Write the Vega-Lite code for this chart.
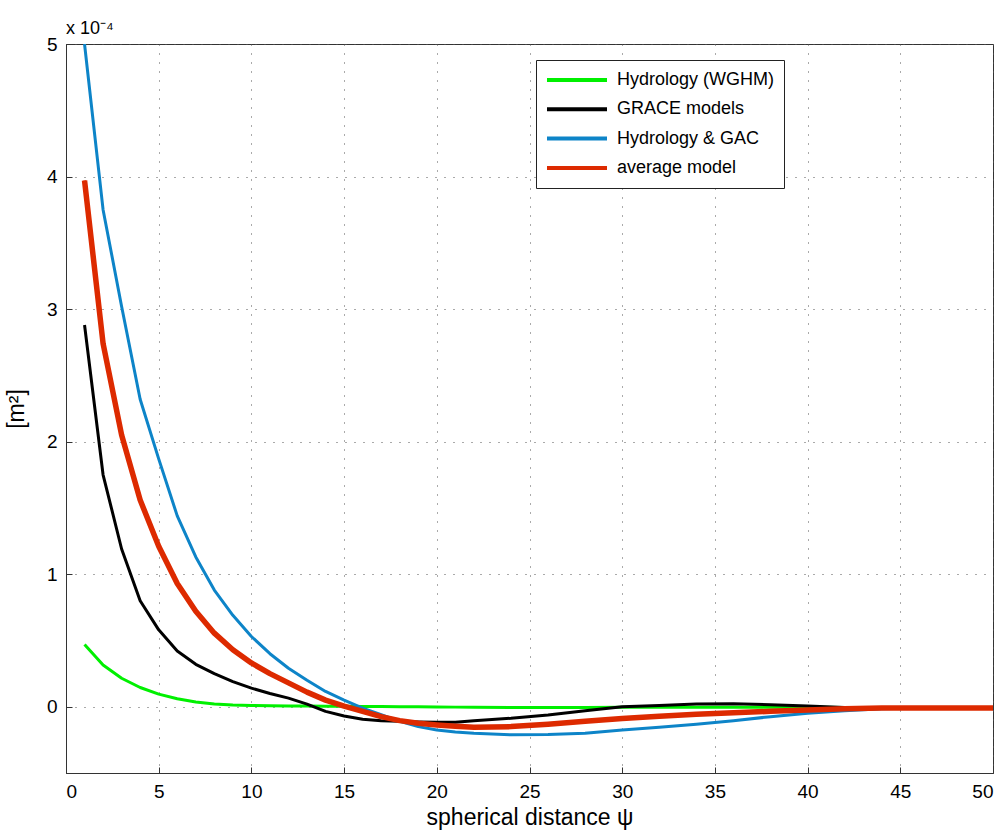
{
  "$schema": "https://vega.github.io/schema/vega-lite/v6.json",
  "width": 927,
  "height": 729,
  "autosize": {"type": "none"},
  "padding": {"left": 66, "top": 44, "right": 13, "bottom": 59},
  "background": "white",
  "title": {
    "text": "x 10⁻⁴",
    "anchor": "start",
    "frame": "group",
    "baseline": "bottom",
    "offset": 8,
    "dy": 29,
    "font": "Liberation Sans",
    "fontSize": 18,
    "fontWeight": "normal",
    "color": "#000"
  },
  "datasets": {
    "curves": [
      {"psi": 1, "series": "Hydrology (WGHM)", "cov": 0.47},
      {"psi": 2, "series": "Hydrology (WGHM)", "cov": 0.315},
      {"psi": 3, "series": "Hydrology (WGHM)", "cov": 0.215},
      {"psi": 4, "series": "Hydrology (WGHM)", "cov": 0.145},
      {"psi": 5, "series": "Hydrology (WGHM)", "cov": 0.095},
      {"psi": 6, "series": "Hydrology (WGHM)", "cov": 0.06},
      {"psi": 7, "series": "Hydrology (WGHM)", "cov": 0.035},
      {"psi": 8, "series": "Hydrology (WGHM)", "cov": 0.02},
      {"psi": 9, "series": "Hydrology (WGHM)", "cov": 0.013},
      {"psi": 10, "series": "Hydrology (WGHM)", "cov": 0.01},
      {"psi": 11, "series": "Hydrology (WGHM)", "cov": 0.008},
      {"psi": 12, "series": "Hydrology (WGHM)", "cov": 0.006},
      {"psi": 13, "series": "Hydrology (WGHM)", "cov": 0.005},
      {"psi": 14, "series": "Hydrology (WGHM)", "cov": 0.004},
      {"psi": 15, "series": "Hydrology (WGHM)", "cov": 0.003},
      {"psi": 16, "series": "Hydrology (WGHM)", "cov": 0.002},
      {"psi": 17, "series": "Hydrology (WGHM)", "cov": 0.001},
      {"psi": 18, "series": "Hydrology (WGHM)", "cov": 0.0},
      {"psi": 19, "series": "Hydrology (WGHM)", "cov": 0.0},
      {"psi": 20, "series": "Hydrology (WGHM)", "cov": -0.002},
      {"psi": 21, "series": "Hydrology (WGHM)", "cov": -0.003},
      {"psi": 22, "series": "Hydrology (WGHM)", "cov": -0.004},
      {"psi": 24, "series": "Hydrology (WGHM)", "cov": -0.005},
      {"psi": 26, "series": "Hydrology (WGHM)", "cov": -0.005},
      {"psi": 28, "series": "Hydrology (WGHM)", "cov": -0.005},
      {"psi": 30, "series": "Hydrology (WGHM)", "cov": -0.004},
      {"psi": 32, "series": "Hydrology (WGHM)", "cov": -0.004},
      {"psi": 34, "series": "Hydrology (WGHM)", "cov": -0.004},
      {"psi": 36, "series": "Hydrology (WGHM)", "cov": -0.003},
      {"psi": 38, "series": "Hydrology (WGHM)", "cov": -0.003},
      {"psi": 40, "series": "Hydrology (WGHM)", "cov": -0.004},
      {"psi": 42, "series": "Hydrology (WGHM)", "cov": -0.006},
      {"psi": 44, "series": "Hydrology (WGHM)", "cov": -0.008},
      {"psi": 46, "series": "Hydrology (WGHM)", "cov": -0.008},
      {"psi": 48, "series": "Hydrology (WGHM)", "cov": -0.008},
      {"psi": 50, "series": "Hydrology (WGHM)", "cov": -0.008},

      {"psi": 1, "series": "GRACE models", "cov": 2.88},
      {"psi": 2, "series": "GRACE models", "cov": 1.75},
      {"psi": 3, "series": "GRACE models", "cov": 1.19},
      {"psi": 4, "series": "GRACE models", "cov": 0.8},
      {"psi": 5, "series": "GRACE models", "cov": 0.58},
      {"psi": 6, "series": "GRACE models", "cov": 0.42},
      {"psi": 7, "series": "GRACE models", "cov": 0.32},
      {"psi": 8, "series": "GRACE models", "cov": 0.25},
      {"psi": 9, "series": "GRACE models", "cov": 0.19},
      {"psi": 10, "series": "GRACE models", "cov": 0.14},
      {"psi": 11, "series": "GRACE models", "cov": 0.1},
      {"psi": 12, "series": "GRACE models", "cov": 0.065},
      {"psi": 13, "series": "GRACE models", "cov": 0.02},
      {"psi": 14, "series": "GRACE models", "cov": -0.035},
      {"psi": 15, "series": "GRACE models", "cov": -0.07},
      {"psi": 16, "series": "GRACE models", "cov": -0.095},
      {"psi": 17, "series": "GRACE models", "cov": -0.105},
      {"psi": 18, "series": "GRACE models", "cov": -0.11},
      {"psi": 19, "series": "GRACE models", "cov": -0.115},
      {"psi": 20, "series": "GRACE models", "cov": -0.117},
      {"psi": 21, "series": "GRACE models", "cov": -0.118},
      {"psi": 22, "series": "GRACE models", "cov": -0.105},
      {"psi": 24, "series": "GRACE models", "cov": -0.087},
      {"psi": 26, "series": "GRACE models", "cov": -0.062},
      {"psi": 28, "series": "GRACE models", "cov": -0.03},
      {"psi": 30, "series": "GRACE models", "cov": 0.0},
      {"psi": 32, "series": "GRACE models", "cov": 0.01},
      {"psi": 34, "series": "GRACE models", "cov": 0.02},
      {"psi": 36, "series": "GRACE models", "cov": 0.022},
      {"psi": 38, "series": "GRACE models", "cov": 0.015},
      {"psi": 40, "series": "GRACE models", "cov": 0.005},
      {"psi": 42, "series": "GRACE models", "cov": -0.005},
      {"psi": 44, "series": "GRACE models", "cov": -0.01},
      {"psi": 46, "series": "GRACE models", "cov": -0.01},
      {"psi": 48, "series": "GRACE models", "cov": -0.01},
      {"psi": 50, "series": "GRACE models", "cov": -0.01},

      {"psi": 1, "series": "Hydrology & GAC", "cov": 5.0},
      {"psi": 2, "series": "Hydrology & GAC", "cov": 3.75},
      {"psi": 3, "series": "Hydrology & GAC", "cov": 3.02},
      {"psi": 4, "series": "Hydrology & GAC", "cov": 2.32},
      {"psi": 5, "series": "Hydrology & GAC", "cov": 1.87},
      {"psi": 6, "series": "Hydrology & GAC", "cov": 1.44},
      {"psi": 7, "series": "Hydrology & GAC", "cov": 1.13},
      {"psi": 8, "series": "Hydrology & GAC", "cov": 0.88},
      {"psi": 9, "series": "Hydrology & GAC", "cov": 0.69},
      {"psi": 10, "series": "Hydrology & GAC", "cov": 0.53},
      {"psi": 11, "series": "Hydrology & GAC", "cov": 0.4},
      {"psi": 12, "series": "Hydrology & GAC", "cov": 0.29},
      {"psi": 13, "series": "Hydrology & GAC", "cov": 0.2},
      {"psi": 14, "series": "Hydrology & GAC", "cov": 0.115},
      {"psi": 15, "series": "Hydrology & GAC", "cov": 0.05},
      {"psi": 16, "series": "Hydrology & GAC", "cov": -0.01},
      {"psi": 17, "series": "Hydrology & GAC", "cov": -0.06},
      {"psi": 18, "series": "Hydrology & GAC", "cov": -0.11},
      {"psi": 19, "series": "Hydrology & GAC", "cov": -0.15},
      {"psi": 20, "series": "Hydrology & GAC", "cov": -0.175},
      {"psi": 21, "series": "Hydrology & GAC", "cov": -0.19},
      {"psi": 22, "series": "Hydrology & GAC", "cov": -0.2},
      {"psi": 24, "series": "Hydrology & GAC", "cov": -0.212},
      {"psi": 26, "series": "Hydrology & GAC", "cov": -0.21},
      {"psi": 28, "series": "Hydrology & GAC", "cov": -0.2},
      {"psi": 30, "series": "Hydrology & GAC", "cov": -0.175},
      {"psi": 32, "series": "Hydrology & GAC", "cov": -0.155},
      {"psi": 34, "series": "Hydrology & GAC", "cov": -0.132},
      {"psi": 36, "series": "Hydrology & GAC", "cov": -0.105},
      {"psi": 38, "series": "Hydrology & GAC", "cov": -0.075},
      {"psi": 40, "series": "Hydrology & GAC", "cov": -0.05},
      {"psi": 42, "series": "Hydrology & GAC", "cov": -0.03},
      {"psi": 44, "series": "Hydrology & GAC", "cov": -0.015},
      {"psi": 46, "series": "Hydrology & GAC", "cov": -0.01},
      {"psi": 48, "series": "Hydrology & GAC", "cov": -0.01},
      {"psi": 50, "series": "Hydrology & GAC", "cov": -0.01},

      {"psi": 1, "series": "average model", "cov": 3.97},
      {"psi": 2, "series": "average model", "cov": 2.74},
      {"psi": 3, "series": "average model", "cov": 2.05},
      {"psi": 4, "series": "average model", "cov": 1.56},
      {"psi": 5, "series": "average model", "cov": 1.21},
      {"psi": 6, "series": "average model", "cov": 0.93},
      {"psi": 7, "series": "average model", "cov": 0.72},
      {"psi": 8, "series": "average model", "cov": 0.555},
      {"psi": 9, "series": "average model", "cov": 0.43},
      {"psi": 10, "series": "average model", "cov": 0.33},
      {"psi": 11, "series": "average model", "cov": 0.25},
      {"psi": 12, "series": "average model", "cov": 0.18},
      {"psi": 13, "series": "average model", "cov": 0.11},
      {"psi": 14, "series": "average model", "cov": 0.05},
      {"psi": 15, "series": "average model", "cov": 0.005},
      {"psi": 16, "series": "average model", "cov": -0.035},
      {"psi": 17, "series": "average model", "cov": -0.075},
      {"psi": 18, "series": "average model", "cov": -0.105},
      {"psi": 19, "series": "average model", "cov": -0.125},
      {"psi": 20, "series": "average model", "cov": -0.138},
      {"psi": 21, "series": "average model", "cov": -0.148},
      {"psi": 22, "series": "average model", "cov": -0.155},
      {"psi": 24, "series": "average model", "cov": -0.15},
      {"psi": 26, "series": "average model", "cov": -0.132},
      {"psi": 28, "series": "average model", "cov": -0.11},
      {"psi": 30, "series": "average model", "cov": -0.088},
      {"psi": 32, "series": "average model", "cov": -0.072},
      {"psi": 34, "series": "average model", "cov": -0.057},
      {"psi": 36, "series": "average model", "cov": -0.045},
      {"psi": 38, "series": "average model", "cov": -0.035},
      {"psi": 40, "series": "average model", "cov": -0.025},
      {"psi": 42, "series": "average model", "cov": -0.015},
      {"psi": 44, "series": "average model", "cov": -0.01},
      {"psi": 46, "series": "average model", "cov": -0.01},
      {"psi": 48, "series": "average model", "cov": -0.01},
      {"psi": 50, "series": "average model", "cov": -0.01}
    ]
  },
  "data": {"name": "curves"},
  "encoding": {
    "x": {
      "field": "psi",
      "type": "quantitative",
      "scale": {"domain": [0, 50], "nice": false, "zero": false},
      "axis": {
        "title": "spherical distance ψ",
        "values": [0, 5, 10, 15, 20, 25, 30, 35, 40, 45, 50],
        "format": "d",
        "titlePadding": 5
      }
    },
    "y": {
      "field": "cov",
      "type": "quantitative",
      "scale": {"domain": [-0.5, 5], "nice": false, "zero": false},
      "axis": {
        "title": "[m²]",
        "values": [0, 1, 2, 3, 4, 5],
        "format": "d",
        "titlePadding": 18
      }
    },
    "color": {
      "field": "series",
      "type": "nominal",
      "scale": {
        "domain": ["Hydrology (WGHM)", "GRACE models", "Hydrology & GAC", "average model"],
        "range": ["#00f000", "#000000", "#0d84c8", "#dd2a00"]
      },
      "legend": {
        "title": null
      }
    }
  },
  "layer": [
    {
      "mark": {"type": "line", "clip": true, "strokeWidth": 3, "strokeJoin": "round"}
    },
    {
      "transform": [{"filter": "datum.series === 'average model'"}],
      "mark": {"type": "line", "clip": true, "strokeWidth": 5.5, "strokeJoin": "round"}
    }
  ],
  "config": {
    "font": "Liberation Sans",
    "view": {"stroke": "#333", "strokeWidth": 1},
    "axis": {
      "labelFont": "Liberation Sans",
      "labelFontSize": 19,
      "labelColor": "#000",
      "titleFont": "Liberation Sans",
      "titleFontSize": 23,
      "titleFontWeight": "normal",
      "titleColor": "#000",
      "domainColor": "#333",
      "domainWidth": 1,
      "tickColor": "#333",
      "tickSize": -6,
      "labelPadding": 15,
      "grid": true,
      "gridColor": "#555",
      "gridDash": [1, 8],
      "gridWidth": 1,
      "gridOpacity": 1
    },
    "legend": {
      "orient": "none",
      "legendX": 470,
      "legendY": 16,
      "padding": 9,
      "strokeColor": "#222",
      "fillColor": "white",
      "symbolType": "stroke",
      "symbolSize": 3600,
      "symbolStrokeWidth": 4,
      "clipHeight": 22,
      "labelFont": "Liberation Sans",
      "labelFontSize": 18,
      "labelColor": "#000",
      "labelOffset": 8,
      "rowPadding": 7.3
    }
  }
}
